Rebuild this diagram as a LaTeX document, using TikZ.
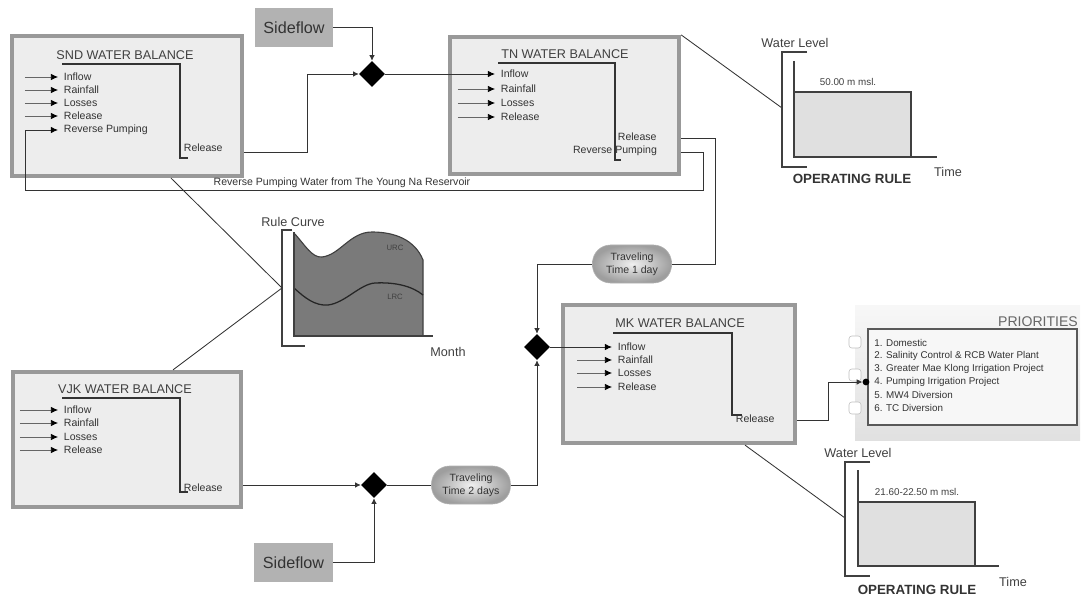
\documentclass[tikz,border=0pt]{standalone}
\usepackage{fontspec}
\setmainfont{Liberation Sans}
\usetikzlibrary{arrows.meta,shapes.geometric,positioning}

\tikzset{
  wbox/.style={draw=black!40, line width=3pt, fill=black!7},
  wtitle/.style={font=\fontsize{9}{10}\selectfont, text=black!75},
  inlab/.style={anchor=west, inner xsep=4pt, inner ysep=1pt, font=\fontsize{7.5}{8}\selectfont, text=black!80},
  inarr/.style={draw=black!60, line width=0.5pt, -{Latex[length=5pt,width=4.5pt,fill=black,color=black]}},
  relpath/.style={draw=black!80, line width=1.3pt},
  flow/.style={draw=black!80, line width=0.6pt},
  tip/.style={-{Latex[length=4pt,width=4pt]}},
  jn/.style={diamond, fill=black, minimum size=0.65cm, inner sep=0pt},
  sidebox/.style={fill=black!30, minimum width=1.95cm, minimum height=0.975cm, font=\fontsize{11.5}{12}\selectfont, text=black!80},
  travel/.style={draw=black!30, rounded corners=0.45cm, shading=radial, inner color=black!6, outer color=black!38, minimum width=1.975cm, minimum height=0.95cm, align=center, font=\fontsize{7.5}{9.5}\selectfont, text=black!80},
  prlab/.style={anchor=west, inner sep=0pt, font=\fontsize{7}{8}\selectfont, text=black!80},
  oplab/.style={font=\bfseries\fontsize{9.5}{10}\selectfont, text=black!80},
  axlab/.style={font=\fontsize{9}{10}\selectfont, text=black!75},
  lvlab/.style={font=\fontsize{7}{8}\selectfont, text=black!75},
  axis/.style={draw=black!75, line width=1pt},
  opbox/.style={draw=black!75, line width=1pt, fill=black!12},
}

\begin{document}
\begin{tikzpicture}[x=0.025cm, y=-0.025cm]
	\useasboundingbox (0,0) rectangle (1082,597);
	
	%%%%% SND %%%%%
	\node[wbox, minimum width=5.75cm, minimum height=3.5cm] (snd) at (127,106) {};
	\node[wtitle] (sndt) at (125,55) {SND WATER BALANCE};
	\node[inlab] (sndin1) at (58,77) {Inflow};
	\node[inlab] (sndin2) at (58,90) {Rainfall};
	\node[inlab] (sndin3) at (58,103) {Losses};
	\node[inlab] (sndin4) at (58,116) {Release};
	\node[inlab] (sndin5) at (58,130) {Reverse Pumping};
	\draw[inarr] ([xshift=-0.825cm]sndin1.west) -- (sndin1.west);
	\draw[inarr] ([xshift=-0.825cm]sndin2.west) -- (sndin2.west);
	\draw[inarr] ([xshift=-0.825cm]sndin3.west) -- (sndin3.west);
	\draw[inarr] ([xshift=-0.825cm]sndin4.west) -- (sndin4.west);
	\draw[relpath] (62,64) -- (180,64) -- (180,158) -- (188,158);
	\node[inlab] (sndrel) at (178,148) {Release};
	
	%%%%% TN %%%%%
	\node[wbox, minimum width=5.725cm, minimum height=3.425cm] (tn) at (564.5,105.5) {};
	\node[wtitle] (tnt) at (565,54) {TN WATER BALANCE};
	\node[inlab] (tnin1) at (495,74) {Inflow};
	\node[inlab] (tnin2) at (495,89) {Rainfall};
	\node[inlab] (tnin3) at (495,103) {Losses};
	\node[inlab] (tnin4) at (495,117) {Release};
	\draw[inarr] ([xshift=-0.925cm]tnin2.west) -- (tnin2.west);
	\draw[inarr] ([xshift=-0.925cm]tnin3.west) -- (tnin3.west);
	\draw[inarr] ([xshift=-0.925cm]tnin4.west) -- (tnin4.west);
	\draw[relpath] (498,63) -- (615,63) -- (615,160) -- (621,160);
	\node[inlab] (tnrel) at (612,137) {Release};
	\node[inlab, anchor=center] (tnrp) at (615,151) {Reverse Pumping};
	
	%%%%% top junction %%%%%
	\node[sidebox] (sf1) at (294,27.5) {Sideflow};
	\node[jn] (dtop) at (372,74) {};
	\coordinate (sndbend) at (307,152);
	\draw[flow, tip] (snd.east |- sndbend) -- (sndbend) |- (dtop.west);
	\draw[flow, tip] (sf1.east) -| (dtop.north);
	\draw[inarr, draw=black!80, line width=0.6pt] (dtop.east) -- (tnin1.west);
	
	% reverse pumping back to SND
	\coordinate (rpc) at (703,152);
	\coordinate (rpl) at (25,190);
	\draw[inarr, draw=black!80, line width=0.6pt] (tn.east |- rpc) -- (rpc) |- (rpl) |- (sndin5.west);
	\node[inlab, anchor=center] (rptxt) at (342,183) {Reverse Pumping Water from The Young Na Reservoir};
	
	% TN release to MK
	\node[travel] (tt1) at (632,264) {Traveling\\Time 1 day};
	\coordinate (tnrc) at (715,138);
	\draw[flow] (tn.east |- tnrc) -- (tnrc) |- (tt1.east);
	\node[jn] (dmid) at (537,347) {};
	\draw[flow, tip] (tt1.west) -| (dmid.north);
	
	%%%%% MK %%%%%
	\node[wbox, minimum width=5.8cm, minimum height=3.45cm] (mk) at (679,374) {};
	\node[wtitle] (mkt) at (680,323) {MK WATER BALANCE};
	\node[inlab] (mkin1) at (612,347) {Inflow};
	\node[inlab] (mkin2) at (612,360) {Rainfall};
	\node[inlab] (mkin3) at (612,373) {Losses};
	\node[inlab] (mkin4) at (612,387) {Release};
	\draw[inarr] ([xshift=-0.875cm]mkin2.west) -- (mkin2.west);
	\draw[inarr] ([xshift=-0.875cm]mkin3.west) -- (mkin3.west);
	\draw[inarr] ([xshift=-0.875cm]mkin4.west) -- (mkin4.west);
	\draw[relpath] (613,333) -- (732,333) -- (732,415) -- (742,415);
	\node[inlab] (mkrel) at (730,419) {Release};
	\draw[inarr, draw=black!80, line width=0.6pt] (dmid.east) -- (mkin1.west);
	
	%%%%% VJK %%%%%
	\node[wbox, minimum width=5.7cm, minimum height=3.375cm] (vjk) at (127,439.5) {};
	\node[wtitle] (vjkt) at (125,389) {VJK WATER BALANCE};
	\node[inlab] (vjkin1) at (58,410) {Inflow};
	\node[inlab] (vjkin2) at (58,423) {Rainfall};
	\node[inlab] (vjkin3) at (58,437) {Losses};
	\node[inlab] (vjkin4) at (58,450) {Release};
	\draw[inarr] ([xshift=-0.95cm]vjkin1.west) -- (vjkin1.west);
	\draw[inarr] ([xshift=-0.95cm]vjkin2.west) -- (vjkin2.west);
	\draw[inarr] ([xshift=-0.95cm]vjkin3.west) -- (vjkin3.west);
	\draw[inarr] ([xshift=-0.95cm]vjkin4.west) -- (vjkin4.west);
	\draw[relpath] (62,398) -- (180,398) -- (180,492) -- (188,492);
	\node[inlab] (vjkrel) at (178,488) {Release};
	
	%%%%% bottom junction %%%%%
	\node[jn] (dbot) at (374,485) {};
	\draw[flow, tip] (vjk.east |- dbot) -- (dbot.west);
	\node[sidebox] (sf2) at (293.5,562.5) {Sideflow};
	\draw[flow, tip] (sf2.east) -| (dbot.south);
	\node[travel] (tt2) at (471,485) {Traveling\\Time 2 days};
	\draw[flow] (dbot.east) -- (tt2.west);
	\draw[flow, tip] (tt2.east) -| (dmid.south);
	
	%%%%% rule curve %%%%%
	\fill[black!52] (294,233) .. controls (305,245) and (312,258) .. (322,257) .. controls (340,255) and (350,232) .. (372,232) .. controls (395,232) and (415,240) .. (423,260) -- (423,336) -- (294,336) -- cycle;
	\draw[black!75, line width=0.8pt] (294,233) .. controls (305,245) and (312,258) .. (322,257) .. controls (340,255) and (350,232) .. (372,232) .. controls (395,232) and (415,240) .. (423,260) -- (423,336);
	\draw[black!85, line width=0.9pt] (294,288) .. controls (305,298) and (315,306) .. (328,305) .. controls (345,303) and (360,284) .. (375,283) .. controls (395,282) and (412,286) .. (423,295);
	\draw[axis] (294,232) -- (294,336) -- (433,336);
	\draw[black!75, line width=0.9pt] (292,230) -- (282,230) -- (282,346) -- (305,346);
	\node[font=\fontsize{5.5}{6}\selectfont, text=black!75] (urc) at (395,248) {URC};
	\node[font=\fontsize{5.5}{6}\selectfont, text=black!75] (lrc) at (395,297) {LRC};
	\node[axlab] (rctxt) at (293,222) {Rule Curve};
	\node[axlab] (month) at (448,352) {Month};
	\coordinate (rcb) at (282,288);
	\draw[flow] ([xshift=1.1cm]snd.south) -- (rcb);
	\draw[flow] ([xshift=1.15cm]vjk.north) -- (rcb);
	
	%%%%% operating rule TN %%%%%
	\coordinate (or1) at (782,108);
	\draw[flow] (tn.north east) -- (or1);
	\draw[black!75, line width=0.9pt] (807,52) -- (782,52) -- (782,167) -- (807,167);
	\draw[opbox] (794,92) rectangle (911,157);
	\draw[axis] (794,61) -- (794,157) -- (937,157);
	\node[axlab] (wl1) at (795,43) {Water Level};
	\node[lvlab] (lv1) at (848,82) {50.00 m msl.};
	\node[oplab] (op1) at (852,179) {OPERATING RULE};
	\node[axlab] (tm1) at (948,172) {Time};
	
	%%%%% priorities %%%%%
	\shade[top color=black!3, bottom color=black!12] (855,305) rectangle (1080,440);
	\filldraw[fill=white, draw=black!25, rounded corners=2pt] (849,336) rectangle (861,348);
	\filldraw[fill=white, draw=black!25, rounded corners=2pt] (849,369) rectangle (861,381);
	\filldraw[fill=white, draw=black!25, rounded corners=2pt] (849,402) rectangle (861,414);
	\node[font=\fontsize{10}{11}\selectfont, text=black!60] (prt) at (1038,322) {PRIORITIES};
	\node[draw=black!65, fill=black!3, line width=0.8pt, minimum width=5.225cm, minimum height=2.4cm] (prio) at (972.5,377) {};
	\node[prlab] (p1) at (874,343) {1. Domestic};
	\node[prlab] (p2) at (874,356) {2. Salinity Control \& RCB Water Plant};
	\node[prlab] (p3) at (874,369) {3. Greater Mae Klong Irrigation Project};
	\node[prlab] (p4) at (874,382) {4. Pumping Irrigation Project};
	\node[prlab] (p5) at (874,395) {5. MW4 Diversion};
	\node[prlab] (p6) at (874,408) {6. TC Diversion};
	\node[circle, fill=black, inner sep=0pt, minimum size=0.17cm] (pdot) at (866,382) {};
	\coordinate (mkc) at (828,420);
	\draw[flow, tip] (mk.east |- mkc) -- (mkc) |- (pdot.west);
	
	%%%%% operating rule MK %%%%%
	\coordinate (or2) at (845,518);
	\draw[flow] ([xshift=1.65cm]mk.south) -- (or2);
	\draw[black!75, line width=0.9pt] (870,462) -- (845,462) -- (845,576) -- (870,576);
	\draw[opbox] (858,502) rectangle (975,566);
	\draw[axis] (858,470) -- (858,566) -- (999,566);
	\node[axlab] (wl2) at (858,453) {Water Level};
	\node[lvlab] (lv2) at (917,492) {21.60-22.50 m msl.};
	\node[oplab] (op2) at (917,590) {OPERATING RULE};
	\node[axlab] (tm2) at (1013,582) {Time};
	
\end{tikzpicture}
\end{document}
